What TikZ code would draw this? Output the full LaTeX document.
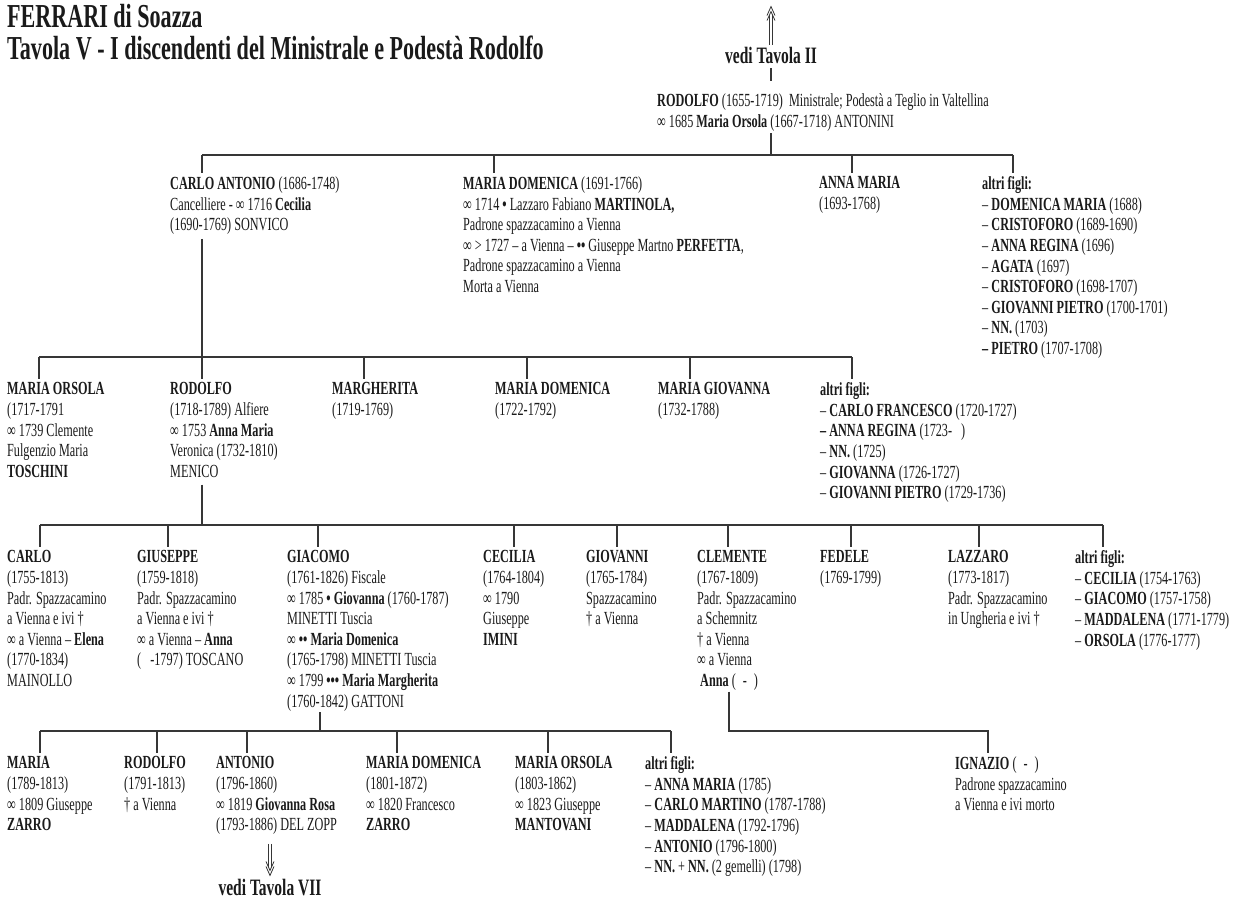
\documentclass[tikz,border=0pt]{standalone}
\usepackage{fontspec}
\setmainfont[FakeStretch=0.66]{Liberation Serif}
\usetikzlibrary{calc}

\definecolor{ink}{HTML}{1A1A1A}
\definecolor{rule}{HTML}{363636}

\newcommand\bodyfont{\fontsize{18.5}{20.6}\selectfont}
\newcommand\titlefont{\fontsize{33.5}{33}\selectfont\bfseries}
\newcommand\reffont{\fontsize{23.5}{24}\selectfont\bfseries}
\newcommand\wed{\textbf{•}}

% stub from a sibling bar down to a child: node, x offset, bar coordinate
\newcommand\kid[3]{\draw[link] ($(#1.north west)+(#2,-4)$) -- ($(#1.north west |- #3)+(#2,0)$);}
% line from a parent down to its children's bar: node, x offset, bar coordinate, gap
\newcommand\drop[4]{\draw[link] ($(#1.south west)+(#2,#4)$) -- ($(#1.south west |- #3)+(#2,0)$);}
% sibling bar between the stubs of two nodes
\newcommand\sibbar[5]{\draw[link] ($(#1.north west |- #3)+(#2,0)$) -- ($(#4.north west |- #3)+(#5,0)$);}

\begin{document}
\begin{tikzpicture}[x=1pt,y=-1pt,
  person/.style={anchor=north west,inner sep=0pt,align=left,font=\bodyfont,text=ink},
  heading/.style={anchor=north west,inner sep=0pt,font=\titlefont,text=ink},
  tavola/.style={inner sep=0pt,font=\reffont,text=ink},
  link/.style={draw=rule,line width=1.1pt},
]
\fill[white] (0,0) rectangle (1243,910);
\useasboundingbox (0,0) rectangle (1243,910);

% title
\node[heading] (t1) at (7,4) {FERRARI di Soazza};
\node[heading] (t2) at (7,36) {Tavola V - I discendenti del Ministrale e Podestà Rodolfo};

% bar levels
\coordinate (b2) at (0,155);
\coordinate (b3) at (0,357);
\coordinate (b4) at (0,525);
\coordinate (b5) at (0,731);

% root
\node[tavola] (vt2) at (771,55) {vedi Tavola II};
\node[person] (root) at (657,93.5) {\textbf{RODOLFO} (1655-1719)\ \ Ministrale; Podestà a Teglio in Valtellina\\
∞ 1685 \textbf{Maria Orsola} (1667-1718) ANTONINI};

% generation 2
\node[person] (ca) at (170,176.5) {\textbf{CARLO ANTONIO} (1686-1748)\\
Cancelliere - ∞ 1716 \textbf{Cecilia}\\
(1690-1769) SONVICO};
\node[person] (md) at (463,176.5) {\textbf{MARIA DOMENICA} (1691-1766)\\
∞ 1714 \wed{} Lazzaro Fabiano \textbf{MARTINOLA,}\\
Padrone spazzacamino a Vienna\\
∞ > 1727 – a Vienna – \wed\wed{} Giuseppe Martno \textbf{PERFETTA},\\
Padrone spazzacamino a Vienna\\
Morta a Vienna};
\node[person] (am) at (819,176.5) {\textbf{ANNA MARIA}\\ (1693-1768)};
\node[person] (af1) at (982,176.5) {\textbf{altri figli:}\\
– \textbf{DOMENICA MARIA} (1688)\\
– \textbf{CRISTOFORO} (1689-1690)\\
– \textbf{ANNA REGINA} (1696)\\
– \textbf{AGATA} (1697)\\
– \textbf{CRISTOFORO} (1698-1707)\\
– \textbf{GIOVANNI PIETRO} (1700-1701)\\
– \textbf{NN.} (1703)\\
\textbf{– PIETRO} (1707-1708)};

% generation 3
\node[person] (mo) at (7,382.5) {\textbf{MARIA ORSOLA}\\ (1717-1791\\ ∞ 1739 Clemente\\ Fulgenzio Maria\\ \textbf{TOSCHINI}};
\node[person] (ro) at (170,382.5) {\textbf{RODOLFO}\\ (1718-1789) Alfiere\\ ∞ 1753 \textbf{Anna Maria}\\ Veronica (1732-1810)\\ MENICO};
\node[person] (mg) at (332,382.5) {\textbf{MARGHERITA}\\ (1719-1769)};
\node[person] (md2) at (495,382.5) {\textbf{MARIA DOMENICA}\\ (1722-1792)};
\node[person] (mgv) at (658,382.5) {\textbf{MARIA GIOVANNA}\\ (1732-1788)};
\node[person] (af2) at (820,382.5) {\textbf{altri figli:}\\
– \textbf{CARLO FRANCESCO} (1720-1727)\\
\textbf{– ANNA REGINA} (1723-\hspace{9pt})\\
– \textbf{NN.} (1725)\\
– \textbf{GIOVANNA} (1726-1727)\\
– \textbf{GIOVANNI PIETRO} (1729-1736)};

% generation 4
\node[person] (carlo) at (7,550.5) {\textbf{CARLO}\\ (1755-1813)\\ Padr. Spazzacamino\\ a Vienna e ivi †\\ ∞ a Vienna – \textbf{Elena}\\ (1770-1834)\\ MAINOLLO};
\node[person] (gius) at (137,550.5) {\textbf{GIUSEPPE}\\ (1759-1818)\\ Padr. Spazzacamino\\ a Vienna e ivi †\\ ∞ a Vienna – \textbf{Anna}\\ (\hspace{9pt}-1797) TOSCANO};
\node[person] (giac) at (287,550.5) {\textbf{GIACOMO}\\ (1761-1826) Fiscale\\ ∞ 1785 \wed{} \textbf{Giovanna} (1760-1787)\\ MINETTI Tuscia\\ ∞ \textbf{•• Maria Domenica}\\ (1765-1798) MINETTI Tuscia\\ ∞ 1799 \textbf{••• Maria Margherita}\\ (1760-1842) GATTONI};
\node[person] (ceci) at (483,550.5) {\textbf{CECILIA}\\ (1764-1804)\\ ∞ 1790\\ Giuseppe\\ \textbf{IMINI}};
\node[person] (giov) at (586,550.5) {\textbf{GIOVANNI}\\ (1765-1784)\\ Spazzacamino\\ † a Vienna};
\node[person] (clem) at (697,550.5) {\textbf{CLEMENTE}\\ (1767-1809)\\ Padr. Spazzacamino\\ a Schemnitz\\ † a Vienna\\ ∞ a Vienna\\ \hspace{3pt}\textbf{Anna} (\hspace{7pt}-\hspace{7pt})};
\node[person] (fed) at (820,550.5) {\textbf{FEDELE}\\ (1769-1799)};
\node[person] (laz) at (948,550.5) {\textbf{LAZZARO}\\ (1773-1817)\\ Padr. Spazzacamino\\ in Ungheria e ivi †};
\node[person] (af3) at (1075,550.5) {\textbf{altri figli:}\\
– \textbf{CECILIA} (1754-1763)\\
– \textbf{GIACOMO} (1757-1758)\\
– \textbf{MADDALENA} (1771-1779)\\
– \textbf{ORSOLA} (1776-1777)};

% generation 5
\node[person] (maria) at (7,756.5) {\textbf{MARIA}\\ (1789-1813)\\ ∞ 1809 Giuseppe\\ \textbf{ZARRO}};
\node[person] (rod5) at (124,756.5) {\textbf{RODOLFO}\\ (1791-1813)\\ † a Vienna};
\node[person] (ant) at (216,756.5) {\textbf{ANTONIO}\\ (1796-1860)\\ ∞ 1819 \textbf{Giovanna Rosa}\\ (1793-1886) DEL ZOPP};
\node[person] (mdo) at (366,756.5) {\textbf{MARIA DOMENICA}\\ (1801-1872)\\ ∞ 1820 Francesco\\ \textbf{ZARRO}};
\node[person] (mor) at (515,756.5) {\textbf{MARIA ORSOLA}\\ (1803-1862)\\ ∞ 1823 Giuseppe\\ \textbf{MANTOVANI}};
\node[person] (af4) at (645,756.5) {\textbf{altri figli:}\\
– \textbf{ANNA MARIA} (1785)\\
– \textbf{CARLO MARTINO} (1787-1788)\\
– \textbf{MADDALENA} (1792-1796)\\
– \textbf{ANTONIO} (1796-1800)\\
– \textbf{NN.} + \textbf{NN.} (2 gemelli) (1798)};
\node[person] (ign) at (955,756.5) {\textbf{IGNAZIO} (\hspace{7pt}-\hspace{7pt})\\ Padrone spazzacamino\\ a Vienna e ivi morto};
\node[tavola] (vt7) at (270,888) {vedi Tavola VII};

% arrow up to Tavola II
\coordinate (up) at ($(vt2.north)+(0,-40)$);
\draw[link,line width=0.8pt] ($(vt2.north)+(-1.6,-2)$) -- ($(up)+(-1.6,8)$);
\draw[link,line width=0.8pt] ($(vt2.north)+(1.6,-2)$) -- ($(up)+(1.6,8)$);
\draw[link,line width=0.8pt] ($(up)+(-4,9)$) -- (up) -- ($(up)+(4,9)$);
\draw[link,line width=0.8pt] ($(up)+(-4,14)$) -- ($(up)+(0,5)$) -- ($(up)+(4,14)$);

% root to its children
\draw[link] ($(vt2.south)+(0,5)$) -- ($(vt2.south |- root.north)+(0,-13)$);
\draw[link] ($(vt2.south |- root.south)+(0,2)$) -- (vt2.south |- b2);
\sibbar{ca}{32}{b2}{af1}{31}
\kid{ca}{32}{b2} \kid{md}{31}{b2} \kid{am}{33}{b2} \kid{af1}{31}{b2}

% Carlo Antonio to his children
\drop{ca}{32}{b3}{4}
\sibbar{mo}{32}{b3}{af2}{32}
\kid{mo}{32}{b3} \kid{ro}{32}{b3} \kid{mg}{32}{b3} \kid{md2}{32}{b3} \kid{mgv}{32}{b3} \kid{af2}{32}{b3}

% Rodolfo to his children
\drop{ro}{32}{b4}{7}
\sibbar{carlo}{33}{b4}{af3}{28}
\kid{carlo}{33}{b4} \kid{gius}{31}{b4} \kid{giac}{31}{b4} \kid{ceci}{31}{b4} \kid{giov}{31}{b4}
\kid{clem}{31}{b4} \kid{fed}{31}{b4} \kid{laz}{31}{b4} \kid{af3}{28}{b4}

% Giacomo to his children
\drop{giac}{33}{b5}{1}
\sibbar{maria}{33}{b5}{af4}{26}
\kid{maria}{33}{b5} \kid{rod5}{33}{b5} \kid{ant}{31}{b5} \kid{mdo}{31}{b5} \kid{mor}{33}{b5} \kid{af4}{26}{b5}

% Clemente to Ignazio
\draw[link] ($(clem.south west)+(32,1)$) |- ($(ign.north west |- b5)+(33,0)$) -- ($(ign.north west)+(33,-4)$);

% arrow down to Tavola VII
\coordinate (dn) at ($(vt7.north)+(0,-4)$);
\draw[link,line width=0.8pt] ($(ant.south west -| dn)+(-1.6,9)$) -- ($(dn)+(-1.6,-8)$);
\draw[link,line width=0.8pt] ($(ant.south west -| dn)+(1.6,9)$) -- ($(dn)+(1.6,-8)$);
\draw[link,line width=0.8pt] ($(dn)+(-4,-9)$) -- (dn) -- ($(dn)+(4,-9)$);
\draw[link,line width=0.8pt] ($(dn)+(-4,-14)$) -- ($(dn)+(0,-5)$) -- ($(dn)+(4,-14)$);
\end{tikzpicture}
\end{document}
